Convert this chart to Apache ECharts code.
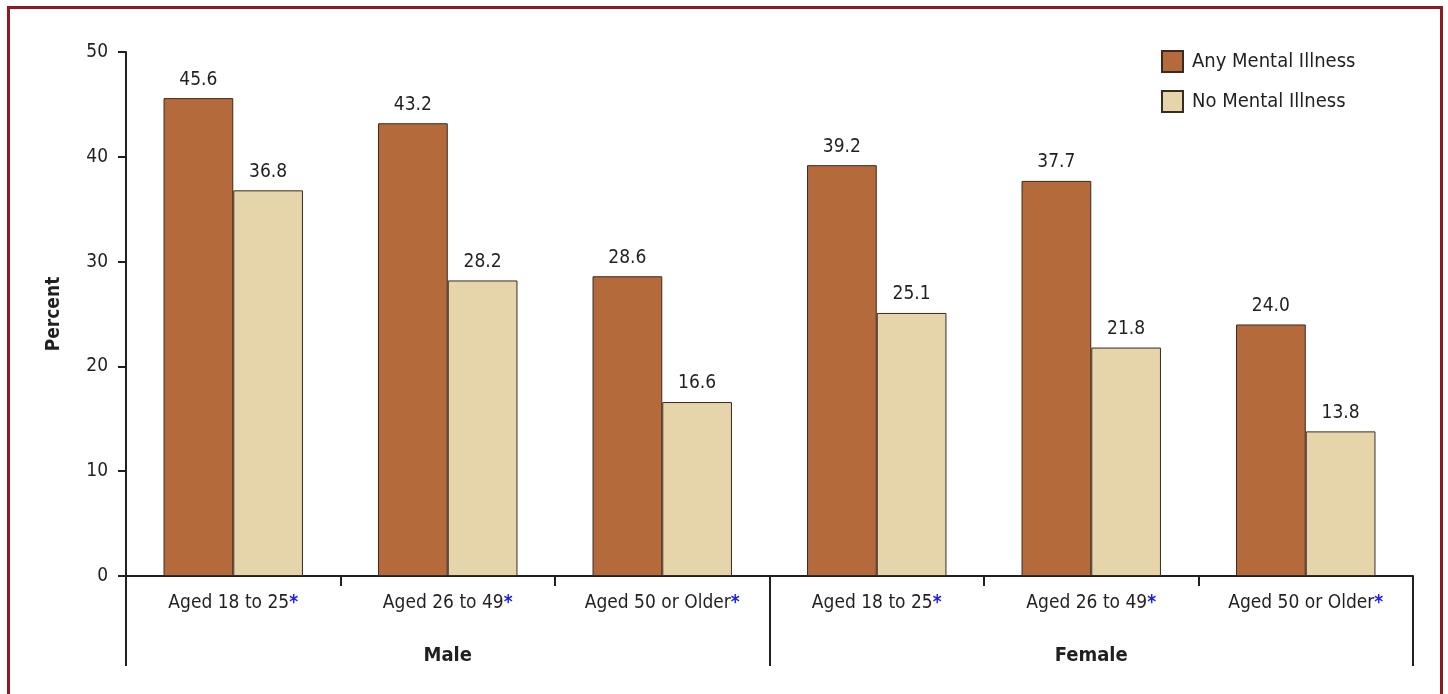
<!DOCTYPE html>
<html>
<head>
<meta charset="utf-8">
<script src="https://cdn.jsdelivr.net/npm/echarts@6/dist/echarts.min.js"></script>
<style>
  html, body { margin: 0; padding: 0; background: #fff; }
  #frame { position: absolute; left: 7px; top: 6px; width: 1436px; height: 720px; border: 3px solid #8e1b1f; box-sizing: border-box; }
  #chart { position: absolute; left: 0; top: 0; width: 1448px; height: 694px; }
</style>
</head>
<body>
<div id="frame"></div>
<div id="chart"></div>
<script>
    var categories = ['Aged 18 to 25', 'Aged 26 to 49', 'Aged 50 or Older', 'Aged 18 to 25', 'Aged 26 to 49', 'Aged 50 or Older'];
    var groups = ['Male', 'Female'];
    var anyMentalIllness = [45.6, 43.2, 28.6, 39.2, 37.7, 24.0];
    var noMentalIllness = [36.8, 28.2, 16.6, 25.1, 21.8, 13.8];
    var yTicks = [0, 10, 20, 30, 40, 50];

    var fontFam = '"Liberation Sans Narrow", "DejaVu Sans Condensed", sans-serif';
    var ink = '#231f20';

    var myChart = echarts.init(document.getElementById('chart'));
    var option = {
        animation: false,
        textStyle: {fontFamily: fontFam, color: ink},
        grid: {left: 126, right: 35, top: 52, bottom: 118},
        legend: {
            orient: 'vertical', left: 1161, top: 50, padding: 0,
            icon: 'rect',
            itemWidth: 21, itemHeight: 21, itemGap: 17,
            textStyle: {fontSize: 20, color: ink, fontFamily: fontFam, padding: [0, 0, 0, 4]},
            data: ['Any Mental Illness', 'No Mental Illness']
        },
        xAxis: [{
            type: 'category',
            data: categories,
            axisLine: {lineStyle: {color: ink, width: 2}},
            axisTick: {show: true, interval: 0, length: 10, lineStyle: {color: ink, width: 2}},
            axisLabel: {
                interval: 0, margin: 18, fontSize: 19, color: ink, fontFamily: fontFam,
                formatter: function(v){ return v + '{s|*}'; },
                rich: {s: {color: '#1a1aff', fontSize: 19, fontWeight: 'bold', fontFamily: fontFam}}
            }
        }, {
            type: 'category',
            data: groups,
            position: 'bottom',
            axisLine: {show: false},
            axisTick: {show: true, interval: 0, length: 90, lineStyle: {color: ink, width: 2}},
            axisLabel: {interval: 0, margin: 70, fontSize: 20, fontWeight: 'bold', color: ink, fontFamily: fontFam}
        }],
        yAxis: {
            type: 'value',
            min: yTicks[0], max: yTicks[yTicks.length - 1], interval: 10,
            name: 'Percent', nameLocation: 'middle', nameGap: 62, nameRotate: 90,
            nameTextStyle: {fontSize: 19, fontWeight: 'bold', color: ink, fontFamily: fontFam},
            splitLine: {show: false},
            axisLine: {show: true, lineStyle: {color: ink, width: 2}},
            axisTick: {show: true, length: 8, lineStyle: {color: ink, width: 2}},
            axisLabel: {margin: 18, fontSize: 19, color: ink, fontFamily: fontFam}
        },
        series: [{
            name: 'Any Mental Illness',
            type: 'bar',
            xAxisIndex: 0,
            data: anyMentalIllness,
            barGap: '0%',
            barCategoryGap: '35%',
            itemStyle: {color: '#b56a3b', borderColor: '#3b2a20', borderWidth: 1},
            label: {show: true, position: 'top', distance: 9, fontSize: 19, color: ink, fontFamily: fontFam,
                formatter: function(p){ return p.value.toFixed(1); }}
        }, {
            name: 'No Mental Illness',
            type: 'bar',
            xAxisIndex: 0,
            data: noMentalIllness,
            itemStyle: {color: '#e6d5aa', borderColor: '#3b2a20', borderWidth: 1},
            label: {show: true, position: 'top', distance: 9, fontSize: 19, color: ink, fontFamily: fontFam,
                formatter: function(p){ return p.value.toFixed(1); }}
        }]
    };
    myChart.setOption(option);
</script>
</body>
</html>
